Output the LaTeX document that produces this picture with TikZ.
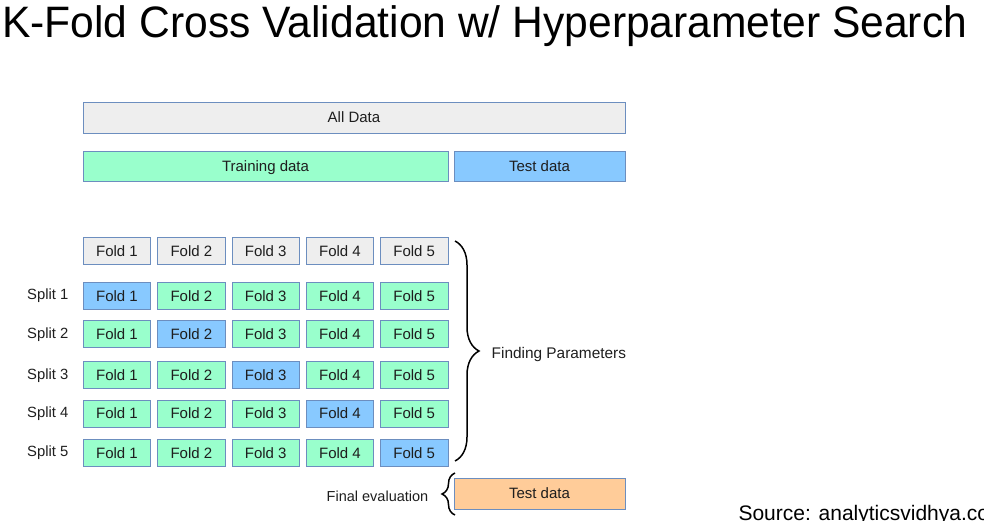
\documentclass[tikz,border=0pt]{standalone}
\usepackage{fontspec}
\setmainfont{Liberation Sans}
\usetikzlibrary{decorations.pathreplacing}
\definecolor{bord}{HTML}{6C8EBF}
\definecolor{graybox}{HTML}{EEEEEE}
\definecolor{trainbox}{HTML}{99FFCC}
\definecolor{testbox}{HTML}{88C9FF}
\definecolor{finalbox}{HTML}{FFCC99}
\definecolor{txt}{HTML}{1E1E1E}
\tikzset{
  box/.style={draw=bord, line width=0.8pt, inner sep=0pt, text=txt,
    text height=10.8pt, text depth=0pt,
    font=\fontsize{15}{18}\selectfont},
  fold/.style={box, minimum width=67.5pt, minimum height=27pt},
  label/.style={inner sep=0pt, text=txt, font=\fontsize{#1}{18}\selectfont},
  label/.default=14.8,
  curly/.style={draw, line width=1.5pt, decorate,
    decoration={brace, amplitude=#1}},
}
\begin{document}
\begin{tikzpicture}[x=1pt, y=-1pt]
\useasboundingbox (0,0) rectangle (984,520);
\clip (0,0) rectangle (984,520);

% heading
\node[anchor=base west, inner sep=0pt, font=\fontsize{44}{50}\selectfont, xscale=0.968]
  (title) at (2,37) {K-Fold Cross Validation w/ Hyperparameter Search};

% full data set and its first split
\node[box, fill=graybox, minimum width=542pt, minimum height=31pt] (all) at (354,117.5) {All Data};
\node[box, fill=trainbox, minimum width=365pt, minimum height=30pt] (train) at (265.5,166) {Training data};
\node[box, fill=testbox, minimum width=171pt, minimum height=30pt] (test) at (539.5,166) {Test data};

% the five folds
\foreach \c [count=\i] in {117,191.4,265.7,340,414.2}
  \node[fold, fill=graybox] (f0\i) at (\c,250.8) {Fold \i};

% the five splits: one validation fold each
\foreach \r/\yy in {1/295.8,2/334.2,3/375.3,4/413.5,5/453} {
  \node[label, anchor=west] (s\r) at (27,\yy) {Split \r};
  \foreach \c [count=\i] in {117,191.4,265.7,340,414.2} {
    \ifnum\i=\r
      \node[fold, fill=testbox] (f\r\i) at (\c,\yy) {Fold \i};
    \else
      \node[fold, fill=trainbox] (f\r\i) at (\c,\yy) {Fold \i};
    \fi
  }
}

% hyper-parameter search brace
\coordinate (bt) at (455,241);
\coordinate (bb) at (455,461);
\draw[curly=24pt] (bt) -- (bb);
\begin{scope}
  \clip (480,330) rectangle (625,370);
  \node[label=15.4, anchor=base west] (find) at (491.5,358.3) {Finding Parameters};
\end{scope}

% final evaluation on held-out data
\node[box, fill=finalbox, minimum width=171pt, minimum height=31pt] (final) at (539.5,493.5) {Test data};
\coordinate (et) at (455,473);
\coordinate (eb) at (455,515);
\draw[curly=13pt] (eb) -- (et);
\node[label=14.5, anchor=base east] (evalt) at (428.5,501.7) {Final evaluation};

% attribution
\node[anchor=base west, inner sep=0pt, font=\fontsize{21}{24}\selectfont]
  (src) at (738.3,520.3) {Source: analyticsvidhya.com};
\end{tikzpicture}
\end{document}
